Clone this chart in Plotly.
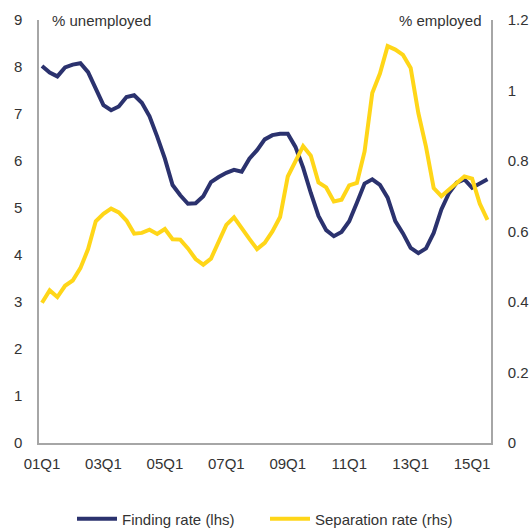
import plotly.graph_objects as go

# Quarterly periods 2001Q1 .. 2015Q3
quarters = [f"{y:02d}Q{q}" for y in range(1, 16) for q in range(1, 5)][:59]
tick_labels = ["01Q1", "03Q1", "05Q1", "07Q1", "09Q1", "11Q1", "13Q1", "15Q1"]

# Job finding rate, % of unemployed (left axis)
finding_rate = [
    8.02, 7.88, 7.80, 7.99, 8.05, 8.08, 7.89, 7.55, 7.19, 7.08,
    7.16, 7.36, 7.40, 7.24, 6.95, 6.52, 6.05, 5.49, 5.27, 5.09,
    5.10, 5.25, 5.55, 5.66, 5.75, 5.81, 5.77, 6.05, 6.23, 6.46,
    6.55, 6.58, 6.58, 6.30, 5.86, 5.32, 4.83, 4.53, 4.40, 4.49,
    4.72, 5.11, 5.52, 5.61, 5.49, 5.22, 4.72, 4.46, 4.15, 4.04,
    4.14, 4.47, 4.97, 5.32, 5.54, 5.61, 5.43, 5.52, 5.61,
]

# Job separation rate, % of employed (right axis)
separation_rate = [
    0.398, 0.433, 0.414, 0.446, 0.461, 0.496, 0.550, 0.629, 0.650, 0.665,
    0.654, 0.631, 0.594, 0.596, 0.605, 0.593, 0.607, 0.578, 0.577, 0.552,
    0.522, 0.506, 0.523, 0.572, 0.619, 0.640, 0.607, 0.579, 0.550, 0.568,
    0.600, 0.641, 0.756, 0.801, 0.842, 0.815, 0.739, 0.725, 0.685, 0.690,
    0.731, 0.738, 0.827, 0.993, 1.048, 1.126, 1.116, 1.101, 1.064, 0.936,
    0.840, 0.723, 0.700, 0.719, 0.736, 0.756, 0.750, 0.679, 0.633,
]

x = list(range(len(quarters)))
tick_pos = [quarters.index(t) for t in tick_labels]

navy = "#2B326E"
yellow = "#FFD618"
font = dict(family="Liberation Sans, Arial, sans-serif", size=15, color="#333333")

fig = go.Figure()
fig.add_trace(go.Scatter(
    x=x, y=finding_rate, name="Finding rate (lhs)", mode="lines",
    line=dict(color=navy, width=4), customdata=quarters,
    hovertemplate="%{customdata}: %{y}<extra></extra>",
))
fig.add_trace(go.Scatter(
    x=x, y=separation_rate, name="Separation rate (rhs)", mode="lines",
    line=dict(color=yellow, width=4), yaxis="y2", customdata=quarters,
    hovertemplate="%{customdata}: %{y}<extra></extra>",
))

axis_common = dict(
    showgrid=False, zeroline=False, showline=True, linecolor="#A6A6A6",
    linewidth=1.5, ticks="outside", tickcolor="rgba(0,0,0,0)",
    tickfont=font, automargin=False,
)

fig.update_layout(
    width=531, height=528,
    margin=dict(l=39, r=40, t=20, b=85),
    paper_bgcolor="white", plot_bgcolor="white",
    font=font,
    showlegend=True,
    legend=dict(
        orientation="h", x=0.5, xanchor="center", xref="paper",
        y=9 / 528, yanchor="middle", yref="container",
        font=font, itemwidth=40, tracegroupgap=0,
        entrywidth=138, entrywidthmode="pixels",
    ),
    xaxis=dict(
        range=[-0.39, 58.46], tickvals=tick_pos, ticktext=tick_labels,
        ticklen=6, **axis_common,
    ),
    yaxis=dict(range=[0, 9], dtick=1, ticklen=12, **axis_common),
    yaxis2=dict(
        range=[0, 1.2], dtick=0.2, overlaying="y", side="right",
        ticklen=12, tickformat="~g", **axis_common,
    ),
    annotations=[
        dict(text="% unemployed", xref="paper", yref="paper", x=0.024, y=1.0,
             xanchor="left", yanchor="middle", showarrow=False, font=font),
        dict(text="% employed", xref="paper", yref="paper", x=0.985, y=1.0,
             xanchor="right", yanchor="middle", showarrow=False, font=font),
    ],
)

fig.write_html("out.html")
